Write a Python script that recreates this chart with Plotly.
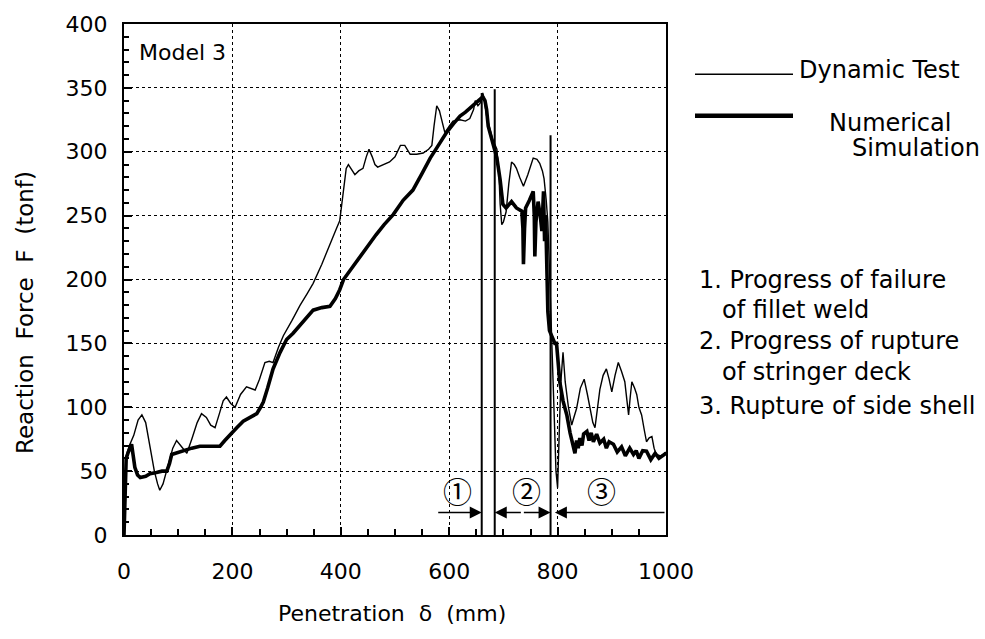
import plotly.graph_objects as go

# Penetration (mm) / reaction force (tonf) -- dynamic test record
test_x = [0, 2, 4, 10, 18, 26, 33, 40, 48, 56, 62, 66, 72, 80, 90, 97, 105, 116, 125, 135,
          143, 152, 160, 168, 176, 183, 189, 197, 205, 215, 226, 234, 242, 250, 260, 268, 275,
          285, 294, 310, 325, 338, 349, 365, 378, 386, 392, 398, 402, 406, 410, 414, 420, 426,
          433, 441, 447, 452, 458, 463, 468, 478, 490, 500, 510, 518, 528, 540, 552, 562, 568,
          572, 577, 582, 586, 592, 600, 607, 620, 630, 638, 645, 648, 653, 657, 662, 665, 669,
          675, 680, 688, 692, 694, 697, 700, 705, 710, 715, 720, 724, 730, 737, 745, 755, 762,
          767, 772, 775, 779, 782, 784, 786, 788, 791, 794, 797, 800, 803, 806, 810, 814, 820,
          826, 830, 835, 842, 849, 855, 860, 865, 869, 874, 878, 884, 890, 895, 900, 906, 912,
          918, 924, 928, 931, 934, 937, 942, 946, 950, 955, 960, 964, 969, 974, 978, 982, 990,
          995, 1000]
test_f = [0, 40, 62, 70, 78, 90, 94, 88, 70, 50, 40, 35, 40, 52, 68, 74, 70, 64, 75, 88,
          95, 92, 86, 84, 95, 105, 108, 103, 100, 110, 116, 115, 113.5, 122, 135, 136, 135,
          147, 156, 168, 180, 189, 197, 212, 226, 235, 240, 246, 260, 275, 287, 290, 286, 282,
          285, 287, 296, 302, 296, 290, 288, 290, 292, 296, 305, 305, 298, 298, 299, 302, 305,
          320, 336, 332, 326, 315, 320, 324, 325, 324, 326, 333, 340, 336, 338, 346, 340, 328,
          318, 310, 302, 280, 259, 243, 245, 253, 275, 292, 290, 287, 280, 273, 282, 295, 294,
          291, 285, 279, 262, 245, 220, 190, 160, 130, 90, 50, 37, 80, 120, 143, 120, 100,
          86, 92, 99, 115, 122, 110, 99, 88, 84, 100, 114, 125, 130, 122, 112, 125, 135,
          128, 120, 105, 94, 108, 120, 115, 110, 100, 94, 82, 73, 76, 77, 68, 63, 62,
          63, 65]

# Numerical simulation result
sim_x = [0, 2, 4, 8, 14, 17, 20, 25, 30, 40, 48, 60, 70, 79, 84, 88, 95, 109, 125, 140,
         160, 177, 186, 196, 208, 220, 232, 245, 252, 257, 265, 275, 288, 300, 312, 325, 337,
         349, 365, 380, 390, 398, 405, 420, 435, 448, 465, 480, 497, 515, 533, 550, 565, 580,
         595, 608, 620, 630, 638, 648, 657, 662, 666, 669, 672, 680, 688, 694, 699, 705, 715,
         724, 734, 736, 737, 739, 741, 748, 755, 757, 758, 760, 764, 768, 771, 774, 776, 778,
         780, 782, 785, 790, 795, 798, 801, 804, 810, 817, 823, 829, 832, 835, 838, 841, 845,
         848, 854, 858, 862, 866, 872, 878, 885, 890, 895, 903, 910, 918, 925, 933, 940, 945,
         950, 957, 964, 972, 980, 987, 995, 1000]
sim_f = [0, 30, 60, 65, 71, 62, 53, 47, 45, 46, 48, 49, 50, 50, 56, 63, 64, 65.6, 68, 69.5,
         69.5, 69.5, 74, 79, 84, 89, 92, 95, 100, 104, 115, 130, 143, 153, 158, 164, 170,
         176, 178, 179, 185, 192, 200, 209, 217, 225, 235, 243, 251, 262, 270, 283, 295, 305,
         315, 322, 328, 331, 334, 338, 342, 343, 340, 333, 320, 308, 295, 278, 259, 256, 261,
         256, 253.5, 240, 212, 240, 256, 262, 269, 250, 218, 245, 261, 250, 238, 269, 230, 250,
         200, 175, 160, 155, 150, 150, 135, 120, 105, 94, 80, 71, 64, 74, 68, 76, 70,
         79, 81, 74, 80, 73, 79, 72, 75, 68, 73, 71, 65, 69, 62, 68, 63, 66,
         60, 66, 65.6, 59, 64, 60, 63, 64]

# Phase boundaries and their marker heights
bound_x = [660, 684, 787]
bound_top = [346, 349, 313]

# Phase labels and arrows (tail -> head) along the phase bar
phase_labels = ["①", "②", "③"]
phase_label_x = [616, 743, 881]
phase_label_y = 35.5
arrow_tail = [577, 735, 735, 1000]
arrow_head = [660, 684, 787, 795]
arrow_y = 17.6

notes = ["1. Progress of failure", "of fillet weld", "2. Progress of rupture",
         "of stringer deck", "3. Rupture of side shell"]

FONT = "DejaVu Sans"

# pixel helpers for the plot frame (l=124, r=666, t=17, b=535)
def px(x):
    return (x - 124) / 542.0

def py(y):
    return (535 - y) / 518.0

fig = go.Figure()
fig.add_trace(go.Scatter(x=test_x, y=test_f, mode="lines", name="Dynamic Test",
                         line=dict(color="black", width=1.4), showlegend=False))
fig.add_trace(go.Scatter(x=sim_x, y=sim_f, mode="lines", name="Numerical Simulation",
                         line=dict(color="black", width=3.6), showlegend=False))

shapes = []
for bx, bt in zip(bound_x, bound_top):
    shapes.append(dict(type="line", xref="x", yref="y", x0=bx, x1=bx, y0=0, y1=bt,
                       line=dict(color="black", width=2)))

# legend samples
shapes.append(dict(type="line", xref="paper", yref="paper", x0=px(695), x1=px(793),
                   y0=py(68), y1=py(68), line=dict(color="black", width=1.5)))
shapes.append(dict(type="line", xref="paper", yref="paper", x0=px(695), x1=px(793),
                   y0=py(110), y1=py(110), line=dict(color="black", width=4.5)))

annotations = []
for t, h in zip(arrow_tail, arrow_head):
    annotations.append(dict(x=h, y=arrow_y, ax=t, ay=arrow_y, xref="x", yref="y",
                            axref="x", ayref="y", text="", showarrow=True,
                            arrowhead=2, arrowsize=1.6, arrowwidth=1.5, arrowcolor="black"))
for lab, lx in zip(phase_labels, phase_label_x):
    annotations.append(dict(x=lx, y=phase_label_y, xref="x", yref="y", text=lab,
                            showarrow=False, font=dict(family="Noto Sans CJK JP", size=29,
                                                       color="black")))

annotations.append(dict(x=px(137), y=py(46), xref="paper", yref="paper", text="Model 3",
                        xanchor="left", yanchor="middle", showarrow=False,
                        font=dict(family=FONT, size=22, color="black")))
annotations.append(dict(x=px(797), y=py(64), xref="paper", yref="paper", text="Dynamic Test",
                        xanchor="left", yanchor="middle", showarrow=False,
                        font=dict(family=FONT, size=24, color="black")))
annotations.append(dict(x=px(827), y=py(117), xref="paper", yref="paper", text="Numerical",
                        xanchor="left", yanchor="middle", showarrow=False,
                        font=dict(family=FONT, size=24, color="black")))
annotations.append(dict(x=px(850), y=py(143), xref="paper", yref="paper", text="Simulation",
                        xanchor="left", yanchor="middle", showarrow=False,
                        font=dict(family=FONT, size=24, color="black")))

note_x = [697, 720, 697, 720, 697]
note_y = [277, 307, 338, 370, 404]
for txt, nx, ny in zip(notes, note_x, note_y):
    annotations.append(dict(x=px(nx), y=py(ny), xref="paper", yref="paper", text=txt,
                            xanchor="left", yanchor="middle", showarrow=False,
                            font=dict(family=FONT, size=24, color="black")))

annotations.append(dict(x=px(392), y=py(615), xref="paper", yref="paper",
                        text="Penetration  δ  (mm)", showarrow=False,
                        xanchor="center", yanchor="middle",
                        font=dict(family=FONT, size=22, color="black")))
annotations.append(dict(x=px(25), y=py(310), xref="paper", yref="paper",
                        text="Reaction  Force  F  (tonf)", showarrow=False, textangle=-90,
                        xanchor="center", yanchor="middle",
                        font=dict(family=FONT, size=23, color="black")))

axis_common = dict(showline=True, linecolor="black", linewidth=2, mirror=True,
                   showgrid=True, gridcolor="black", gridwidth=1.3, griddash="3px,3px",
                   zeroline=False, ticks="inside", tickcolor="black", tickwidth=1.5,
                   tickfont=dict(family=FONT, size=22, color="black"))

fig.update_xaxes(range=[0, 1000], dtick=200, tick0=0, ticklen=8, ticklabelstandoff=16,
                 minor=dict(dtick=50, ticks="inside", ticklen=6, tickcolor="black",
                            showgrid=False),
                 **axis_common)
fig.update_yaxes(range=[0, 400], dtick=50, tick0=0, ticklen=8, ticklabelstandoff=10,
                 minor=dict(dtick=10, ticks="inside", ticklen=5, tickcolor="black",
                            showgrid=False),
                 **axis_common)

fig.update_layout(width=985, height=639, margin=dict(l=124, r=319, t=17, b=104),
                  paper_bgcolor="white", plot_bgcolor="white",
                  shapes=shapes, annotations=annotations, showlegend=False)

fig.write_html("out.html")
